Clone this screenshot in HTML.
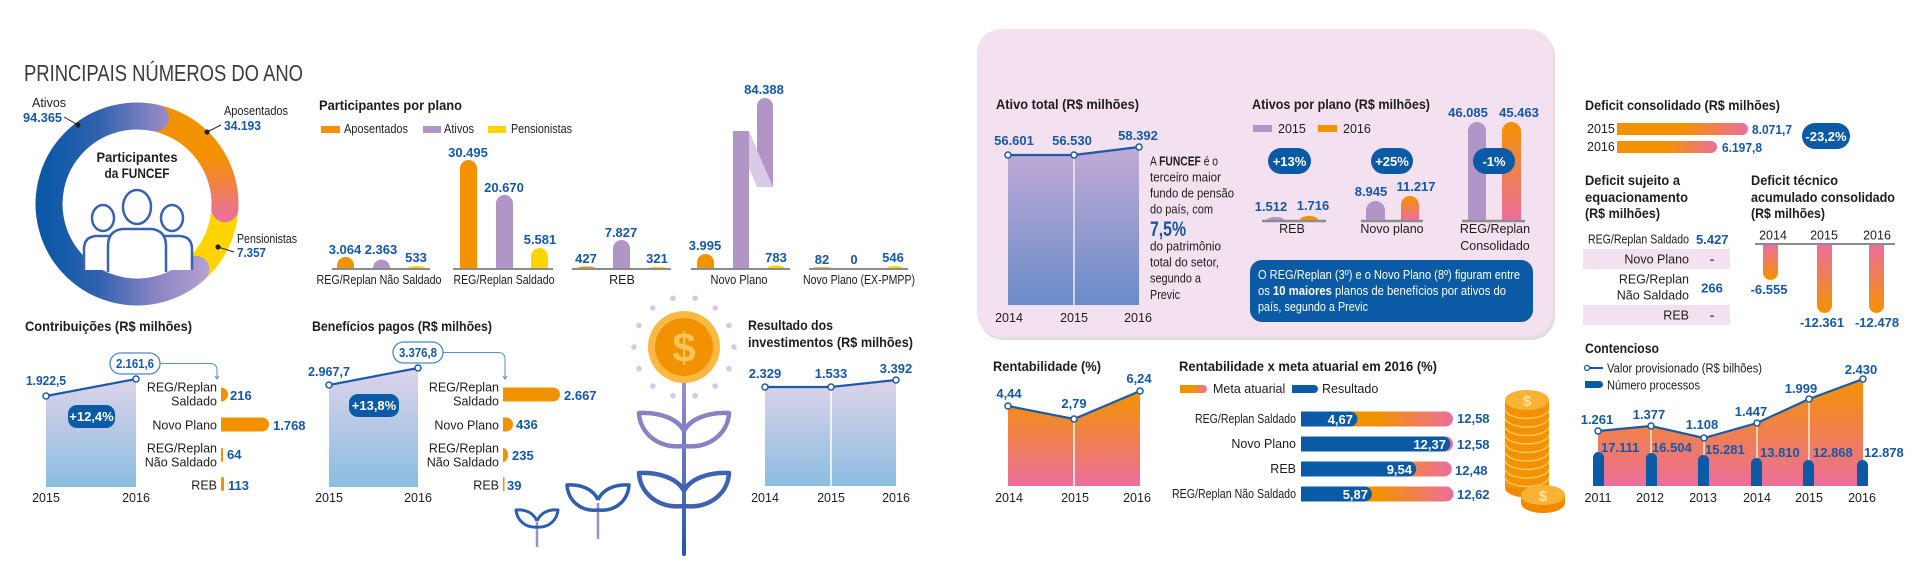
<!DOCTYPE html>
<html><head><meta charset="utf-8">
<style>
html,body{margin:0;padding:0;background:#fff;}
svg{display:block}
text{font-family:"Liberation Sans",sans-serif;}
.t{font-weight:700;font-size:14px;fill:#1d1d1b}
.v{font-weight:700;font-size:13px;fill:#1558a7}
.l{font-size:12.5px;fill:#1d1d1b}
.w{font-weight:700;font-size:13px;fill:#fff}
.m{text-anchor:middle}.e{text-anchor:end}
</style></head><body>
<svg width="1920" height="566" viewBox="0 0 1920 566" xmlns="http://www.w3.org/2000/svg">
<defs>
<linearGradient id="gAt" gradientUnits="userSpaceOnUse" x1="45" y1="0" x2="220" y2="0">
<stop offset="0" stop-color="#0a58a6"/><stop offset="0.3" stop-color="#2f62ae"/><stop offset="0.65" stop-color="#8e86c4"/><stop offset="1" stop-color="#bba7d5"/></linearGradient>
<linearGradient id="gApos" gradientUnits="userSpaceOnUse" x1="0" y1="115" x2="0" y2="218">
<stop offset="0" stop-color="#f39200"/><stop offset="0.4" stop-color="#f39200"/><stop offset="1" stop-color="#ec6e9c"/></linearGradient>
<linearGradient id="gA" x1="0" y1="0" x2="0" y2="1"><stop offset="0" stop-color="#ddd3ea"/><stop offset="1" stop-color="#8bbde0"/></linearGradient>
<linearGradient id="gAT" x1="0" y1="0" x2="0" y2="1"><stop offset="0" stop-color="#c1aad6"/><stop offset="1" stop-color="#6a8cc8"/></linearGradient>
<linearGradient id="gOP" x1="0" y1="0" x2="0" y2="1"><stop offset="0" stop-color="#f39200"/><stop offset="1" stop-color="#ec6e9c"/></linearGradient>
<linearGradient id="gPO" x1="0" y1="0" x2="0" y2="1"><stop offset="0" stop-color="#ec6e9c"/><stop offset="1" stop-color="#f39200"/></linearGradient>
<linearGradient id="gH" x1="0" y1="0" x2="1" y2="0"><stop offset="0" stop-color="#f39200"/><stop offset="0.5" stop-color="#f39200"/><stop offset="1" stop-color="#ec6e9c"/></linearGradient>
<linearGradient id="gStem" x1="0" y1="0" x2="0" y2="1"><stop offset="0" stop-color="#9a8fd0"/><stop offset="1" stop-color="#1d59a8"/></linearGradient>
</defs>

<!-- ============ LEFT: TITLE + DONUT ============ -->
<text x="24" y="81" font-size="23.5" fill="#3a3a3a" textLength="279" lengthAdjust="spacingAndGlyphs">PRINCIPAIS NÚMEROS DO ANO</text>

<path d="M225 204 A88 88 0 0 1 198.1 267.3" stroke="#ffd400" stroke-width="27" fill="none"/>
<path d="M159.8 119 A88 88 0 0 1 224.9 208.6" stroke="url(#gApos)" stroke-width="27" fill="none" stroke-linecap="round"/>
<path d="M195.9 269.4 A88 88 0 1 1 155.3 117.9" stroke="url(#gAt)" stroke-width="27" fill="none" stroke-linecap="round"/>

<line x1="64" y1="117" x2="78" y2="125" stroke="#222" stroke-width="1"/><circle cx="78" cy="125" r="2.6" fill="#222"/>
<line x1="221" y1="125" x2="207" y2="132" stroke="#222" stroke-width="1"/><circle cx="207" cy="132" r="2.6" fill="#222"/>
<line x1="234" y1="252" x2="218" y2="247" stroke="#222" stroke-width="1"/><circle cx="218" cy="247" r="2.6" fill="#222"/>
<text x="32" y="107" class="l">Ativos</text>
<text x="23" y="122" class="v" font-size="14" textLength="39" lengthAdjust="spacingAndGlyphs">94.365</text>
<text x="224" y="115" class="l" textLength="64" lengthAdjust="spacingAndGlyphs">Aposentados</text>
<text x="224" y="130" class="v" font-size="14" textLength="37" lengthAdjust="spacingAndGlyphs">34.193</text>
<text x="237" y="243" class="l" textLength="60" lengthAdjust="spacingAndGlyphs">Pensionistas</text>
<text x="237" y="257" class="v" font-size="14" textLength="29" lengthAdjust="spacingAndGlyphs">7.357</text>

<text x="137" y="162" class="t m" textLength="81" lengthAdjust="spacingAndGlyphs">Participantes</text>
<text x="137" y="178" class="t m" textLength="65" lengthAdjust="spacingAndGlyphs">da FUNCEF</text>
<g fill="#fff" stroke="#3a63ad" stroke-width="2.5">
<path d="M84 270 V249 Q84 237 96 236 H110 Q122 237 122 249 V270"/>
<ellipse cx="103" cy="218" rx="11" ry="13"/>
<path d="M152 270 V249 Q152 237 164 236 H180 Q192 237 192 249 V270"/>
<ellipse cx="172" cy="218" rx="11" ry="13"/>
<path d="M108 272 V246 Q108 231 122 229 H152 Q166 231 166 246 V272"/>
<ellipse cx="137" cy="207" rx="14" ry="17"/>
</g>

<!-- ============ PARTICIPANTES POR PLANO ============ -->
<text x="319" y="110" class="t" textLength="143" lengthAdjust="spacingAndGlyphs">Participantes por plano</text>
<rect x="321" y="126" width="19" height="7" fill="#f39200"/>
<text x="344" y="133" class="l" textLength="64" lengthAdjust="spacingAndGlyphs">Aposentados</text>
<rect x="423" y="126" width="18" height="7" fill="#b095c6"/>
<text x="444" y="133" class="l" textLength="30" lengthAdjust="spacingAndGlyphs">Ativos</text>
<rect x="488" y="126" width="18" height="7" fill="#ffd400"/>
<text x="511" y="133" class="l" textLength="61" lengthAdjust="spacingAndGlyphs">Pensionistas</text>

<g stroke="#8c8c8c" stroke-width="2">
<line x1="332" y1="269" x2="430" y2="269"/><line x1="453" y1="269" x2="553" y2="269"/>
<line x1="572" y1="269" x2="671" y2="269"/><line x1="691" y1="269" x2="790" y2="269"/>
<line x1="809" y1="269" x2="908" y2="269"/>
</g>
<path d="M337 268 V265.5 A8.5 8.5 0 0 1 354 265.5 V268 Z" fill="#f39200"/>
<path d="M373 268 A8.5 8.4 0 0 1 390 268 Z" fill="#b095c6"/>
<path d="M408 268 A8.5 2 0 0 1 425 268 Z" fill="#ffd400"/>
<path d="M460 268 V168.5 A8.5 8.5 0 0 1 477 168.5 V268 Z" fill="#f39200"/>
<path d="M496 268 V203.5 A8.5 8.5 0 0 1 513 203.5 V268 Z" fill="#b095c6"/>
<path d="M531 268 V256.5 A8.5 8.5 0 0 1 548 256.5 V268 Z" fill="#ffd400"/>
<path d="M578 268 A8.5 1.6 0 0 1 595 268 Z" fill="#f39200"/>
<path d="M613 268 V248.5 A8.5 8.5 0 0 1 630 248.5 V268 Z" fill="#b095c6"/>
<path d="M649 268 A8.5 1.3 0 0 1 666 268 Z" fill="#ffd400"/>
<path d="M697 268 V262.5 A8.5 8.5 0 0 1 714 262.5 V268 Z" fill="#f39200"/>
<rect x="733" y="131" width="16" height="137" fill="#b095c6"/>
<polygon points="749,131 773,187 757,187 749,168" fill="#d8c9e5"/>
<path d="M757 150 V106 A8 8 0 0 1 773 106 V187 Z" fill="#b095c6"/>
<path d="M768 268 A8 2.8 0 0 1 784 268 Z" fill="#ffd400"/>
<rect x="814" y="267.3" width="16" height="0.8" fill="#f39200"/>
<path d="M887 268 A8 2 0 0 1 903 268 Z" fill="#ffd400"/>

<text x="345" y="254" class="v m">3.064</text>
<text x="381" y="254" class="v m">2.363</text>
<text x="416" y="262" class="v m">533</text>
<text x="468" y="157" class="v m">30.495</text>
<text x="504" y="192" class="v m">20.670</text>
<text x="540" y="244" class="v m">5.581</text>
<text x="586" y="263" class="v m">427</text>
<text x="621" y="237" class="v m">7.827</text>
<text x="657" y="263" class="v m">321</text>
<text x="705" y="250" class="v m">3.995</text>
<text x="764" y="94" class="v m">84.388</text>
<text x="776" y="262" class="v m">783</text>
<text x="822" y="264" class="v m">82</text>
<text x="854" y="264" class="v m">0</text>
<text x="893" y="262" class="v m">546</text>

<text x="379" y="284" class="l m" textLength="125" lengthAdjust="spacingAndGlyphs">REG/Replan Não Saldado</text>
<text x="504" y="284" class="l m" textLength="101" lengthAdjust="spacingAndGlyphs">REG/Replan Saldado</text>
<text x="622" y="284" class="l m">REB</text>
<text x="739" y="284" class="l m" textLength="57" lengthAdjust="spacingAndGlyphs">Novo Plano</text>
<text x="859" y="284" class="l m" textLength="112" lengthAdjust="spacingAndGlyphs">Novo Plano (EX-PMPP)</text>

<!-- ============ CONTRIBUIÇÕES ============ -->
<text x="25" y="331" class="t" textLength="167" lengthAdjust="spacingAndGlyphs">Contribuições  (R$ milhões)</text>
<polygon points="46,396 136,379 136,487 46,487" fill="url(#gA)"/>
<line x1="46" y1="396" x2="136" y2="379" stroke="#1d5aa6" stroke-width="2.2"/>
<circle cx="46" cy="396" r="3" fill="#fff" stroke="#1d5aa6" stroke-width="1.5"/>
<circle cx="136" cy="379" r="3" fill="#fff" stroke="#1d5aa6" stroke-width="1.5"/>
<text x="26" y="385" class="v" textLength="40" lengthAdjust="spacingAndGlyphs">1.922,5</text>
<rect x="110" y="353" width="50" height="21" rx="10.5" fill="#fff" stroke="#4a86c4" stroke-width="1.3"/>
<text x="135" y="368" class="v m" textLength="38" lengthAdjust="spacingAndGlyphs">2.161,6</text>
<path d="M160 363.5 H210 Q217 363.5 217 370.5 V378" fill="none" stroke="#5a8fc8" stroke-width="1"/>
<path d="M215 376 L217 379 L219 376" fill="none" stroke="#5a8fc8" stroke-width="1"/>
<rect x="68" y="405" width="47" height="23" rx="9" fill="#0b5aa5"/>
<text x="91.5" y="421" class="w m">+12,4%</text>
<text x="46" y="502" class="l m">2015</text>
<text x="136" y="502" class="l m">2016</text>

<text x="217" y="391.5" class="l e">REG/Replan</text>
<text x="217" y="405.5" class="l e">Saldado</text>
<text x="217" y="429.5" class="l e">Novo Plano</text>
<text x="217" y="452.5" class="l e">REG/Replan</text>
<text x="217" y="466.5" class="l e">Não Saldado</text>
<text x="217" y="489.5" class="l e">REB</text>
<path d="M221 387.5 A7 7 0 0 1 221 401.5 Z" fill="#f39200"/>
<rect x="221" y="387.5" width="1" height="14" fill="#f39200"/>
<path d="M221 417.5 H262 A7 7 0 0 1 262 431.5 H221 Z" fill="#f39200"/>
<rect x="221" y="448" width="2" height="14" rx="1" fill="#f39200"/>
<rect x="221" y="477" width="3" height="14" rx="1.5" fill="#f39200"/>
<text x="230" y="400" class="v">216</text>
<text x="273" y="430" class="v">1.768</text>
<text x="227" y="459" class="v">64</text>
<text x="228" y="490" class="v">113</text>

<!-- ============ BENEFÍCIOS ============ -->
<text x="312" y="331" class="t" textLength="180" lengthAdjust="spacingAndGlyphs">Benefícios pagos (R$ milhões)</text>
<polygon points="329,385 418,368 418,487 329,487" fill="url(#gA)"/>
<line x1="329" y1="385" x2="418" y2="368" stroke="#1d5aa6" stroke-width="2.2"/>
<circle cx="329" cy="385" r="3" fill="#fff" stroke="#1d5aa6" stroke-width="1.5"/>
<circle cx="418" cy="368" r="3" fill="#fff" stroke="#1d5aa6" stroke-width="1.5"/>
<text x="308" y="376" class="v" textLength="42" lengthAdjust="spacingAndGlyphs">2.967,7</text>
<rect x="393" y="342" width="50" height="21" rx="10.5" fill="#fff" stroke="#4a86c4" stroke-width="1.3"/>
<text x="418" y="357" class="v m" textLength="38" lengthAdjust="spacingAndGlyphs">3.376,8</text>
<path d="M443 352.5 H498 Q505 352.5 505 359.5 V378" fill="none" stroke="#5a8fc8" stroke-width="1"/>
<path d="M503 376 L505 379 L507 376" fill="none" stroke="#5a8fc8" stroke-width="1"/>
<rect x="349" y="394" width="50" height="23" rx="9" fill="#0b5aa5"/>
<text x="374" y="410" class="w m">+13,8%</text>
<text x="329" y="502" class="l m">2015</text>
<text x="418" y="502" class="l m">2016</text>

<text x="499" y="391.5" class="l e">REG/Replan</text>
<text x="499" y="405.5" class="l e">Saldado</text>
<text x="499" y="429.5" class="l e">Novo Plano</text>
<text x="499" y="452.5" class="l e">REG/Replan</text>
<text x="499" y="466.5" class="l e">Não Saldado</text>
<text x="499" y="489.5" class="l e">REB</text>
<path d="M503 387.5 H553 A7 7 0 0 1 553 401.5 H503 Z" fill="#f39200"/>
<path d="M503 417.5 H506 A7 7 0 0 1 506 431.5 H503 Z" fill="#f39200"/>
<path d="M503 448 A5 7 0 0 1 503 462 Z" fill="#f39200"/>
<rect x="503" y="477" width="1.5" height="14" fill="#f39200"/>
<text x="564" y="400" class="v">2.667</text>
<text x="516" y="429" class="v">436</text>
<text x="512" y="460" class="v">235</text>
<text x="507" y="490" class="v">39</text>

<!-- ============ FLOWER ============ -->
<g fill="#d6c6e8">
<circle cx="734" cy="347" r="2.8"/><circle cx="729" cy="368.7" r="2.8"/><circle cx="715.2" cy="386.1" r="2.8"/>
<circle cx="695.1" cy="395.7" r="2.8"/><circle cx="672.9" cy="395.7" r="2.8"/><circle cx="652.8" cy="386.1" r="2.8"/>
<circle cx="639" cy="368.7" r="2.8"/><circle cx="634" cy="347" r="2.8"/><circle cx="639" cy="325.3" r="2.8"/>
<circle cx="652.8" cy="307.9" r="2.8"/><circle cx="672.9" cy="298.3" r="2.8"/><circle cx="695.1" cy="298.3" r="2.8"/>
<circle cx="715.2" cy="307.9" r="2.8"/><circle cx="729" cy="325.3" r="2.8"/>
</g>
<rect x="682" y="382" width="4" height="174" rx="2" fill="url(#gStem)"/>
<circle cx="684" cy="347" r="36" fill="#fbb843"/>
<circle cx="684" cy="347" r="29" fill="#f39200"/>
<text x="684" y="362" text-anchor="middle" font-size="42" font-weight="700" fill="#fbc45c">$</text>
<g fill="none" stroke="#8a80c4" stroke-width="4.5" stroke-linejoin="round">
<path d="M684 446 C658 449 640 433 639 413 C660 412 678 419 684 431"/>
<path d="M684 446 C710 449 728 433 729 413 C708 412 690 419 684 431"/>
</g>
<g fill="none" stroke="#3f61b0" stroke-width="4.5" stroke-linejoin="round">
<path d="M684 506 C658 509 640 493 639 473 C660 472 678 479 684 491"/>
<path d="M684 506 C710 509 728 493 729 473 C708 472 690 479 684 491"/>
</g>
<line x1="598" y1="503" x2="598" y2="539" stroke="#9d8fcb" stroke-width="2.5"/>
<g fill="none" stroke="#2d5fae" stroke-width="3.5" stroke-linejoin="round">
<path d="M598 510 C580 512 568 500 567 485 C582 484 594 490 598 500"/>
<path d="M598 510 C616 512 628 500 629 485 C614 484 602 490 598 500"/>
</g>
<line x1="537" y1="522" x2="537" y2="547" stroke="#9d8fcb" stroke-width="2.5"/>
<g fill="none" stroke="#2d5fae" stroke-width="3" stroke-linejoin="round">
<path d="M537 527 C525 528 517 520 516 510 C527 509 534 514 537 521"/>
<path d="M537 527 C549 528 557 520 558 510 C547 509 540 514 537 521"/>
</g>

<!-- ============ RESULTADO DOS INVESTIMENTOS ============ -->
<text x="748" y="330" class="t" textLength="85" lengthAdjust="spacingAndGlyphs">Resultado dos</text>
<text x="748" y="347" class="t" textLength="165" lengthAdjust="spacingAndGlyphs">investimentos (R$ milhões)</text>
<polygon points="765,387 831,387 896,380 896,486 765,486" fill="url(#gA)"/>
<line x1="831" y1="387" x2="831" y2="486" stroke="#fff" stroke-width="1.5"/>
<polyline points="765,387 831,387 896,380" fill="none" stroke="#1d5aa6" stroke-width="2.2"/>
<circle cx="765" cy="387" r="3" fill="#fff" stroke="#1d5aa6" stroke-width="1.5"/>
<circle cx="831" cy="387" r="3" fill="#fff" stroke="#1d5aa6" stroke-width="1.5"/>
<circle cx="896" cy="380" r="3" fill="#fff" stroke="#1d5aa6" stroke-width="1.5"/>
<text x="765" y="378" class="v m">2.329</text>
<text x="831" y="378" class="v m">1.533</text>
<text x="896" y="373" class="v m">3.392</text>
<text x="765" y="502" class="l m">2014</text>
<text x="831" y="502" class="l m">2015</text>
<text x="896" y="502" class="l m">2016</text>

<!-- ============ PINK PANEL ============ -->
<rect x="979" y="32" width="576" height="308" rx="24" fill="#e4dce2"/>
<rect x="977" y="29" width="576" height="308" rx="24" fill="#f4e1ef"/>

<text x="996" y="109" class="t" textLength="143" lengthAdjust="spacingAndGlyphs">Ativo total (R$ milhões)</text>
<polygon points="1008,155 1074,155 1139,147 1139,305 1008,305" fill="url(#gAT)"/>
<line x1="1074" y1="155" x2="1074" y2="305" stroke="#eee" stroke-width="1.5"/>
<polyline points="1008,155 1074,155 1139,147" fill="none" stroke="#1d5aa6" stroke-width="2.2"/>
<circle cx="1008" cy="155" r="3" fill="#fff" stroke="#1d5aa6" stroke-width="1.5"/>
<circle cx="1074" cy="155" r="3" fill="#fff" stroke="#1d5aa6" stroke-width="1.5"/>
<circle cx="1139" cy="147" r="3" fill="#fff" stroke="#1d5aa6" stroke-width="1.5"/>
<text x="1014" y="145" class="v m">56.601</text>
<text x="1072" y="145" class="v m">56.530</text>
<text x="1138" y="140" class="v m">58.392</text>
<text x="1009" y="322" class="l m">2014</text>
<text x="1074" y="322" class="l m">2015</text>
<text x="1138" y="322" class="l m">2016</text>

<g class="l" font-size="13">
<text x="1150" y="165.5" textLength="68" lengthAdjust="spacingAndGlyphs">A <tspan font-weight="700">FUNCEF</tspan> é o</text>
<text x="1150" y="181.5" textLength="71" lengthAdjust="spacingAndGlyphs">terceiro maior</text>
<text x="1150" y="197.5" textLength="84" lengthAdjust="spacingAndGlyphs">fundo de pensão</text>
<text x="1150" y="213.5" textLength="63" lengthAdjust="spacingAndGlyphs">do país, com</text>
<text x="1150" y="250.5" textLength="71" lengthAdjust="spacingAndGlyphs">do patrimônio</text>
<text x="1150" y="266.5" textLength="69" lengthAdjust="spacingAndGlyphs">total do setor,</text>
<text x="1150" y="282.5" textLength="51" lengthAdjust="spacingAndGlyphs">segundo a</text>
<text x="1150" y="299" textLength="30" lengthAdjust="spacingAndGlyphs">Previc</text>
</g>
<text x="1150" y="236" font-size="21" font-weight="700" fill="#1558a7" textLength="36" lengthAdjust="spacingAndGlyphs">7,5%</text>

<text x="1252" y="109" class="t" textLength="178" lengthAdjust="spacingAndGlyphs">Ativos por plano (R$ milhões)</text>
<rect x="1253" y="125" width="19" height="7" fill="#b095c6"/>
<text x="1278" y="133" class="l">2015</text>
<rect x="1318" y="125" width="19" height="7" fill="#f39200"/>
<text x="1343" y="133" class="l">2016</text>

<g stroke="#8c8c8c" stroke-width="2.5">
<line x1="1262" y1="221" x2="1326" y2="221"/><line x1="1361" y1="221" x2="1423" y2="221"/><line x1="1462" y1="221" x2="1525" y2="221"/>
</g>
<path d="M1267 220 A8.5 3 0 0 1 1284 220 Z" fill="#b095c6"/>
<path d="M1300 220 A9 4 0 0 1 1318 220 Z" fill="#f39200"/>
<path d="M1366 220 V210.5 A9.5 9.5 0 0 1 1385 210.5 V220 Z" fill="#b095c6"/>
<path d="M1401 220 V205 A9 9 0 0 1 1419 205 V220 Z" fill="url(#gOP)"/>
<path d="M1468 220 V131 A9 9 0 0 1 1486 131 V220 Z" fill="#b095c6"/>
<path d="M1502 220 V131.5 A9.5 9.5 0 0 1 1521 131.5 V220 Z" fill="url(#gOP)"/>
<text x="1271" y="211" class="v m">1.512</text>
<text x="1313" y="210" class="v m">1.716</text>
<text x="1371" y="196" class="v m">8.945</text>
<text x="1416" y="191" class="v m">11.217</text>
<text x="1468" y="117" class="v m">46.085</text>
<text x="1519" y="117" class="v m">45.463</text>
<rect x="1268" y="148" width="43" height="26" rx="13" fill="#0b5aa5"/>
<text x="1289.5" y="166" class="w m">+13%</text>
<rect x="1371" y="148" width="42" height="26" rx="13" fill="#0b5aa5"/>
<text x="1392" y="166" class="w m">+25%</text>
<rect x="1473" y="148" width="42" height="26" rx="13" fill="#0b5aa5"/>
<text x="1494" y="166" class="w m">-1%</text>
<text x="1292" y="233" class="l m">REB</text>
<text x="1392" y="233" class="l m">Novo plano</text>
<text x="1495" y="233" class="l m">REG/Replan</text>
<text x="1495" y="250" class="l m">Consolidado</text>

<rect x="1250" y="260" width="283" height="62" rx="12" fill="#0b5aa5"/>
<g font-size="12.5" fill="#fff">
<text x="1258" y="279" textLength="262" lengthAdjust="spacingAndGlyphs">O REG/Replan (3º) e o Novo Plano (8º) figuram entre</text>
<text x="1258" y="295" textLength="248" lengthAdjust="spacingAndGlyphs">os <tspan font-weight="700">10 maiores</tspan> planos de benefícios por ativos do</text>
<text x="1258" y="311" textLength="110" lengthAdjust="spacingAndGlyphs">país, segundo a Previc</text>
</g>

<!-- ============ RENTABILIDADE ============ -->
<text x="993" y="371" class="t" textLength="108" lengthAdjust="spacingAndGlyphs">Rentabilidade (%)</text>
<polygon points="1008,406 1074,419 1140,391 1140,486 1008,486" fill="url(#gOP)"/>
<line x1="1074" y1="419" x2="1074" y2="486" stroke="#fff" stroke-width="1.5"/>
<polyline points="1008,406 1074,419 1140,391" fill="none" stroke="#1d5aa6" stroke-width="2.2"/>
<circle cx="1008" cy="406" r="3" fill="#fff" stroke="#1d5aa6" stroke-width="1.5"/>
<circle cx="1074" cy="419" r="3" fill="#fff" stroke="#1d5aa6" stroke-width="1.5"/>
<circle cx="1140" cy="391" r="3" fill="#fff" stroke="#1d5aa6" stroke-width="1.5"/>
<text x="1009" y="398" class="v m">4,44</text>
<text x="1074" y="408" class="v m">2,79</text>
<text x="1139" y="383" class="v m">6,24</text>
<text x="1009" y="502" class="l m">2014</text>
<text x="1075" y="502" class="l m">2015</text>
<text x="1137" y="502" class="l m">2016</text>

<text x="1179" y="371" class="t" textLength="258" lengthAdjust="spacingAndGlyphs">Rentabilidade x meta atuarial em 2016 (%)</text>
<path d="M1180 385 H1203 A4 4 0 0 1 1203 393 H1180 Z" fill="url(#gH)"/>
<text x="1213" y="393" class="l">Meta atuarial</text>
<path d="M1292 385 H1314 A4 4 0 0 1 1314 393 H1292 Z" fill="#0b5aa5"/>
<text x="1322" y="393" class="l">Resultado</text>

<path d="M1301 411.5 H1445.5 A7.5 7.5 0 0 1 1445.5 426.5 H1301 Z" fill="url(#gH)"/>
<path d="M1301 436.5 H1445.5 A7.5 7.5 0 0 1 1445.5 451.5 H1301 Z" fill="url(#gH)"/>
<path d="M1301 461.5 H1444.3 A7.5 7.5 0 0 1 1444.3 476.5 H1301 Z" fill="url(#gH)"/>
<path d="M1301 486.5 H1446 A7.5 7.5 0 0 1 1446 501.5 H1301 Z" fill="url(#gH)"/>
<path d="M1301 411.5 H1349.9 A7.5 7.5 0 0 1 1349.9 426.5 H1301 Z" fill="#0b5aa5"/>
<path d="M1301 436.5 H1442.9 A7.5 7.5 0 0 1 1442.9 451.5 H1301 Z" fill="#0b5aa5"/>
<path d="M1301 461.5 H1408.7 A7.5 7.5 0 0 1 1408.7 476.5 H1301 Z" fill="#0b5aa5"/>
<path d="M1301 486.5 H1364.4 A7.5 7.5 0 0 1 1364.4 501.5 H1301 Z" fill="#0b5aa5"/>
<text x="1353" y="424" class="w e">4,67</text>
<text x="1446" y="449" class="w e">12,37</text>
<text x="1412" y="474" class="w e">9,54</text>
<text x="1368" y="499" class="w e">5,87</text>
<text x="1296" y="423" class="l e" textLength="101" lengthAdjust="spacingAndGlyphs">REG/Replan Saldado</text>
<text x="1296" y="448" class="l e">Novo Plano</text>
<text x="1296" y="473" class="l e">REB</text>
<text x="1296" y="498" class="l e" textLength="124" lengthAdjust="spacingAndGlyphs">REG/Replan Não Saldado</text>
<text x="1457" y="423" class="v">12,58</text>
<text x="1457" y="449" class="v">12,58</text>
<text x="1455" y="475" class="v">12,48</text>
<text x="1457" y="499" class="v">12,62</text>

<!-- coins -->
<ellipse cx="1527" cy="488" rx="22" ry="9.5" fill="#ee8a00"/>
<rect x="1505" y="400" width="44" height="88" fill="#f39200"/>
<g fill="none" stroke="#fcc35a" stroke-width="1.5">
<path d="M1505 409 A22 9.5 0 0 0 1549 409"/><path d="M1505 417.5 A22 9.5 0 0 0 1549 417.5"/>
<path d="M1505 426 A22 9.5 0 0 0 1549 426"/><path d="M1505 434.5 A22 9.5 0 0 0 1549 434.5"/>
<path d="M1505 443 A22 9.5 0 0 0 1549 443"/><path d="M1505 451.5 A22 9.5 0 0 0 1549 451.5"/>
<path d="M1505 460 A22 9.5 0 0 0 1549 460"/><path d="M1505 468.5 A22 9.5 0 0 0 1549 468.5"/>
<path d="M1505 477 A22 9.5 0 0 0 1549 477"/>
</g>
<ellipse cx="1527" cy="400" rx="22" ry="10" fill="#f9b233"/>
<text x="1527" y="406" text-anchor="middle" font-size="15" font-weight="700" fill="#fde3a0">$</text>
<ellipse cx="1543" cy="503" rx="22" ry="10" fill="#ee8a00"/>
<rect x="1521" y="495" width="44" height="8" fill="#f39200"/>
<ellipse cx="1543" cy="495" rx="22" ry="10" fill="#f9b233"/>
<text x="1543" y="501" text-anchor="middle" font-size="15" font-weight="700" fill="#fde3a0">$</text>

<!-- ============ DEFICIT ============ -->
<text x="1585" y="110" class="t" textLength="195" lengthAdjust="spacingAndGlyphs">Deficit consolidado (R$ milhões)</text>
<text x="1587" y="133" class="l">2015</text>
<text x="1587" y="151" class="l">2016</text>
<path d="M1617 123 H1742 A6 6 0 0 1 1742 135 H1617 Z" fill="url(#gH)"/>
<path d="M1617 141 H1711 A6 6 0 0 1 1711 153 H1617 Z" fill="url(#gH)"/>
<text x="1752" y="134" class="v" textLength="40" lengthAdjust="spacingAndGlyphs">8.071,7</text>
<text x="1722" y="152" class="v" textLength="40" lengthAdjust="spacingAndGlyphs">6.197,8</text>
<rect x="1802" y="123" width="48" height="26" rx="13" fill="#0b5aa5"/>
<text x="1826" y="141" class="w m">-23,2%</text>

<text x="1585" y="185" class="t" textLength="95" lengthAdjust="spacingAndGlyphs">Deficit sujeito a</text>
<text x="1585" y="202" class="t" textLength="103" lengthAdjust="spacingAndGlyphs">equacionamento</text>
<text x="1585" y="218" class="t" textLength="75" lengthAdjust="spacingAndGlyphs">(R$ milhões)</text>
<rect x="1583" y="249" width="147" height="20" fill="#f4e1ef"/>
<rect x="1583" y="305" width="147" height="20" fill="#f4e1ef"/>
<text x="1689" y="243.5" class="l e" textLength="101" lengthAdjust="spacingAndGlyphs">REG/Replan Saldado</text>
<text x="1696" y="244" class="v">5.427</text>
<text x="1689" y="263.5" class="l e">Novo Plano</text>
<text x="1712" y="263.5" class="v m">-</text>
<text x="1689" y="283.5" class="l e">REG/Replan</text>
<text x="1689" y="299.5" class="l e">Não Saldado</text>
<text x="1712" y="292.5" class="v m">266</text>
<text x="1689" y="319.5" class="l e">REB</text>
<text x="1712" y="319.5" class="v m">-</text>

<text x="1751" y="185" class="t" textLength="87" lengthAdjust="spacingAndGlyphs">Deficit técnico</text>
<text x="1751" y="202" class="t" textLength="144" lengthAdjust="spacingAndGlyphs">acumulado consolidado</text>
<text x="1751" y="218" class="t" textLength="74" lengthAdjust="spacingAndGlyphs">(R$ milhões)</text>
<text x="1773" y="239.5" class="l m">2014</text>
<text x="1824" y="239.5" class="l m">2015</text>
<text x="1877" y="239.5" class="l m">2016</text>
<line x1="1755" y1="244" x2="1895" y2="244" stroke="#8c8c8c" stroke-width="2"/>
<path d="M1763 245 V272.5 A7.5 7.5 0 0 0 1778 272.5 V245 Z" fill="url(#gPO)"/>
<path d="M1817 245 V305.5 A7.5 7.5 0 0 0 1832 305.5 V245 Z" fill="url(#gPO)"/>
<path d="M1869 245 V305.5 A7.5 7.5 0 0 0 1884 305.5 V245 Z" fill="url(#gPO)"/>
<text x="1769" y="294" class="v m">-6.555</text>
<text x="1822" y="327" class="v m">-12.361</text>
<text x="1877" y="327" class="v m">-12.478</text>

<!-- ============ CONTENCIOSO ============ -->
<text x="1585" y="353" class="t" textLength="74" lengthAdjust="spacingAndGlyphs">Contencioso</text>
<line x1="1585" y1="368" x2="1603" y2="368" stroke="#1d5aa6" stroke-width="2"/>
<circle cx="1587" cy="368" r="2.5" fill="#fff" stroke="#1d5aa6" stroke-width="1.3"/>
<text x="1607" y="372.5" class="l" textLength="155" lengthAdjust="spacingAndGlyphs">Valor provisionado (R$ bilhões)</text>
<path d="M1585 381 H1599.5 A3.5 3.5 0 0 1 1599.5 388 H1585 Z" fill="#0b5aa5"/>
<text x="1607" y="389.5" class="l" textLength="93" lengthAdjust="spacingAndGlyphs">Número processos</text>

<polygon points="1598,431 1651,426 1704,438 1757,423 1809,399 1863,379 1863,486 1598,486" fill="url(#gOP)"/>
<g stroke="#fbd3b0" stroke-width="2">
<line x1="1651" y1="426" x2="1651" y2="455"/><line x1="1704" y1="438" x2="1704" y2="457"/>
<line x1="1757" y1="423" x2="1757" y2="460"/><line x1="1809" y1="399" x2="1809" y2="462"/>
</g>
<polyline points="1598,431 1651,426 1704,438 1757,423 1809,399 1863,379" fill="none" stroke="#1d5aa6" stroke-width="2.2"/>
<g fill="#fff" stroke="#1d5aa6" stroke-width="1.5">
<circle cx="1598" cy="431" r="3"/><circle cx="1651" cy="426" r="3"/><circle cx="1704" cy="438" r="3"/>
<circle cx="1757" cy="423" r="3"/><circle cx="1809" cy="399" r="3"/><circle cx="1863" cy="379" r="3"/>
</g>
<g fill="#0b5aa5">
<path d="M1593 486 V457.5 A5.5 5.5 0 0 1 1604 457.5 V486 Z"/>
<path d="M1646 486 V458.5 A5.5 5.5 0 0 1 1657 458.5 V486 Z"/>
<path d="M1698 486 V460.5 A5.5 5.5 0 0 1 1709 460.5 V486 Z"/>
<path d="M1751 486 V463.5 A5.5 5.5 0 0 1 1762 463.5 V486 Z"/>
<path d="M1803 486 V465.5 A5.5 5.5 0 0 1 1814 465.5 V486 Z"/>
<path d="M1857 486 V465.5 A5.5 5.5 0 0 1 1868 465.5 V486 Z"/>
</g>
<text x="1601" y="452" class="v">17.111</text>
<text x="1652" y="452" class="v">16.504</text>
<text x="1705" y="454" class="v">15.281</text>
<text x="1760" y="457" class="v">13.810</text>
<text x="1813" y="457" class="v">12.868</text>
<text x="1864" y="457" class="v">12.878</text>
<text x="1597" y="424" class="v m">1.261</text>
<text x="1649" y="419" class="v m">1.377</text>
<text x="1702" y="429" class="v m">1.108</text>
<text x="1751" y="416" class="v m">1.447</text>
<text x="1801" y="393" class="v m">1.999</text>
<text x="1861" y="374" class="v m">2.430</text>
<text x="1598" y="502" class="l m">2011</text>
<text x="1650" y="502" class="l m">2012</text>
<text x="1703" y="502" class="l m">2013</text>
<text x="1757" y="502" class="l m">2014</text>
<text x="1809" y="502" class="l m">2015</text>
<text x="1862" y="502" class="l m">2016</text>
</svg>
</body></html>
